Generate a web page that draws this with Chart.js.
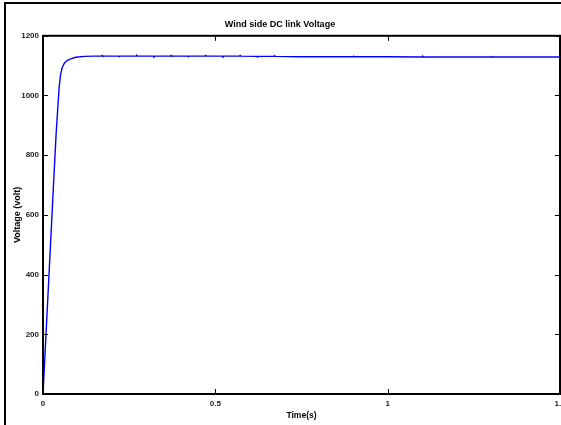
<!DOCTYPE html>
<html>
<head>
<meta charset="utf-8">
<script src="https://cdn.jsdelivr.net/npm/chart.js@4"></script>
<style>
  html, body { margin: 0; padding: 0; background: #fff; overflow: hidden; }
  #wrap { position: relative; width: 561px; height: 425px; }
  #frame { position: absolute; left: 4px; top: 2px; width: 600px; height: 500px;
           border-left: 2px solid #000; border-top: 2px solid #000; }
  canvas { position: absolute; left: 0; top: 0; }
</style>
</head>
<body>
<div id="wrap">
  <div id="frame"></div>
  <canvas id="graph-dc-link" width="561" height="425"></canvas>
</div>
<script>
const timeS = [
  0, 0.01, 0.02, 0.03, 0.038, 0.043, 0.047, 0.051, 0.056, 0.062, 0.07, 0.08, 0.095, 0.12,
  0.15, 0.17, 0.172, 0.174, 0.22, 0.222, 0.224, 0.27, 0.272, 0.274, 0.32, 0.322, 0.324,
  0.37, 0.372, 0.374, 0.42, 0.422, 0.424, 0.47, 0.472, 0.474, 0.52, 0.522, 0.524,
  0.57, 0.572, 0.574, 0.62, 0.622, 0.624, 0.67, 0.672, 0.674, 0.75, 0.85, 0.9, 0.902,
  0.904, 1.0, 1.1, 1.102, 1.104, 1.2, 1.3, 1.302, 1.304, 1.4, 1.5
];
const voltage = [
  0, 230, 460, 690, 870, 960, 1030, 1070, 1095, 1108, 1117, 1123, 1128, 1131,
  1132, 1132, 1134, 1132, 1132, 1130, 1132, 1132, 1134, 1132, 1132, 1130, 1132,
  1132, 1134, 1132, 1132, 1130, 1132, 1132, 1134, 1132, 1132, 1130, 1132,
  1132, 1134, 1132, 1131, 1129, 1131, 1131, 1133, 1131, 1130, 1130, 1130, 1131,
  1130, 1130, 1129, 1131, 1129, 1129, 1129, 1130, 1129, 1129, 1129
];
const xTicks = [0, 0.5, 1, 1.5];
const yTicks = [0, 200, 400, 600, 800, 1000, 1200];

const FONT = '"Liberation Sans", Arial, sans-serif';

const boxPlugin = {
  id: "matlabBox",
  afterDraw(chart) {
    const { ctx, chartArea: a, scales } = chart;
    ctx.save();
    ctx.strokeStyle = "#000";
    ctx.lineWidth = 1;
    const tl = 5;
    xTicks.forEach((v) => {
      const px = Math.round(scales.x.getPixelForValue(v)) + 0.5;
      ctx.beginPath();
      ctx.moveTo(px, a.bottom); ctx.lineTo(px, a.bottom - tl);
      ctx.moveTo(px, a.top); ctx.lineTo(px, a.top + tl);
      ctx.stroke();
    });
    yTicks.forEach((v) => {
      const py = Math.round(scales.y.getPixelForValue(v)) + 0.5;
      ctx.beginPath();
      ctx.moveTo(a.left, py); ctx.lineTo(a.left + tl, py);
      ctx.moveTo(a.right, py); ctx.lineTo(a.right - tl, py);
      ctx.stroke();
    });
    ctx.lineWidth = 2;
    ctx.strokeRect(a.left, a.top, a.right - a.left, a.bottom - a.top);
    ctx.restore();
  },
};

new Chart(document.getElementById("graph-dc-link"), {
  type: "line",
  data: {
    datasets: [
      {
        data: timeS.map((t, i) => ({ x: t, y: voltage[i] })),
        borderColor: "#0000ff",
        borderWidth: 1.4,
        pointRadius: 0,
        tension: 0,
        fill: false,
      },
    ],
  },
  options: {
    responsive: false,
    animation: false,
    events: [],
    layout: { padding: { left: 0, right: 1, top: 0, bottom: 0 } },
    plugins: {
      legend: { display: false },
      tooltip: { enabled: false },
      title: {
        display: true,
        text: "Wind side DC link Voltage",
        color: "#000",
        font: { family: FONT, size: 9, weight: "bold" },
        padding: { top: 19, bottom: 6 },
      },
    },
    scales: {
      x: {
        type: "linear",
        min: 0,
        max: 1.5,
        afterBuildTicks: (s) => { s.ticks = xTicks.map((v) => ({ value: v })); },
        afterFit: (s) => { s.height = 31; s.paddingLeft = 0; s.paddingRight = 0; },
        grid: { display: false, drawTicks: false },
        border: { display: false },
        ticks: {
          color: "#222",
          padding: 5,
          maxRotation: 0,
          font: { family: FONT, size: 8, weight: "bold" },
          callback: (v) => String(v),
        },
        title: {
          display: true,
          text: "Time(s)",
          color: "#000",
          font: { family: FONT, size: 8.5, weight: "bold" },
          padding: { top: 0, bottom: 4 },
        },
      },
      y: {
        min: 0,
        max: 1200,
        afterBuildTicks: (s) => { s.ticks = yTicks.map((v) => ({ value: v })); },
        afterFit: (s) => { s.width = 43; s.paddingTop = 0; s.paddingBottom = 0; },
        grid: { display: false, drawTicks: false },
        border: { display: false },
        ticks: {
          color: "#222",
          padding: 4,
          font: { family: FONT, size: 8, weight: "bold" },
          callback: (v) => String(v),
        },
        title: {
          display: true,
          text: "Voltage (volt)",
          color: "#000",
          font: { family: FONT, size: 9, weight: "bold" },
          padding: { top: 12, bottom: 0 },
        },
      },
    },
  },
  plugins: [boxPlugin],
});
</script>
</body>
</html>
